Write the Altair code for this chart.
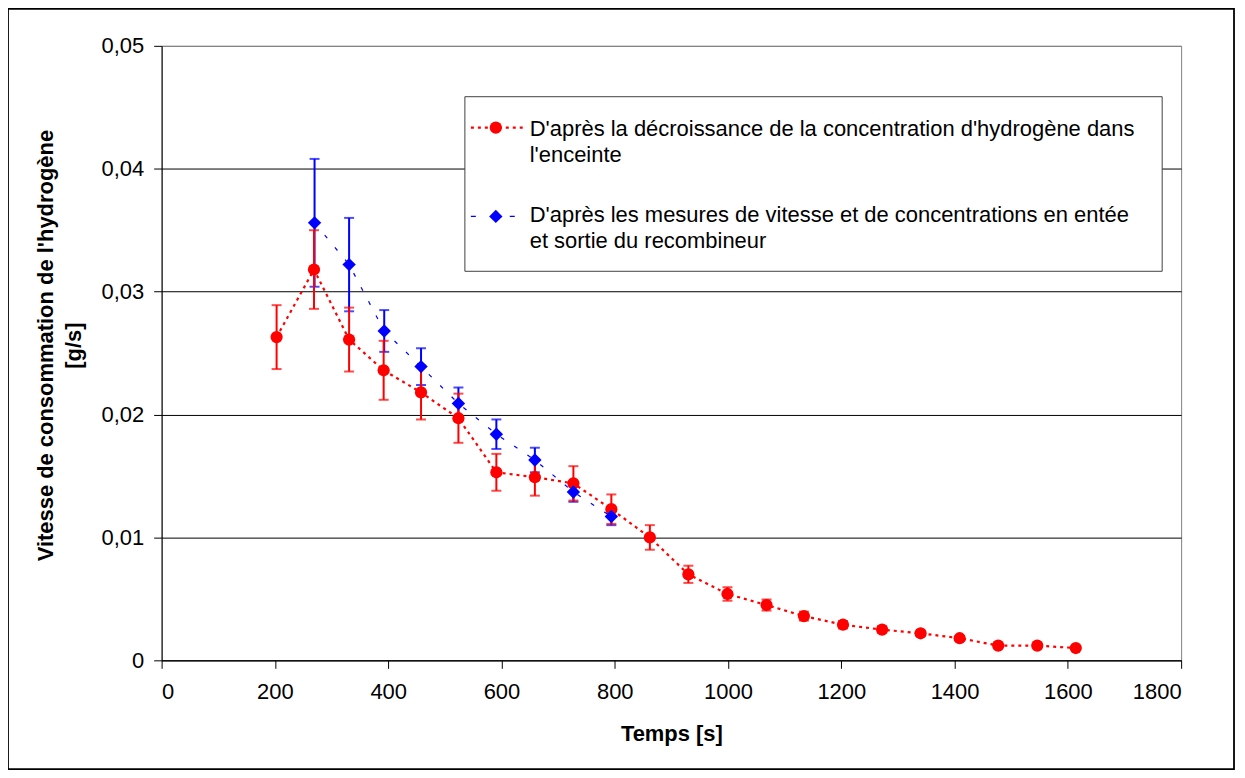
import altair as alt
import pandas as pd

# ---- data ----
red_t = [203, 269, 331, 392, 458, 524, 591, 659, 727, 794, 862, 930, 999, 1068, 1134, 1203, 1272, 1340, 1409, 1477, 1546, 1614]
red_v = [0.0263, 0.0318, 0.0261, 0.0236, 0.0218, 0.0197, 0.0153, 0.0149, 0.0144, 0.0123, 0.0100, 0.0070,
         0.0054, 0.0045, 0.0036, 0.0029, 0.0025, 0.0022, 0.0018, 0.0012, 0.0012, 0.0010]
red_err = [0.0026, 0.0032, 0.0026, 0.0024, 0.0022, 0.0020, 0.0015, 0.0015, 0.0014, 0.0012, 0.0010, 0.0007,
           0.00055, 0.00045, 0.00036, 0.0003, 0.00025, 0.00022, 0.00018, 0.00012, 0.00012, 0.0001]

blue_t = [270, 331, 393, 458, 524, 591, 659, 727, 794]
blue_v = [0.0356, 0.0322, 0.0268, 0.0239, 0.0209, 0.0184, 0.0163, 0.0137, 0.0117]
blue_err = [0.0052, 0.0038, 0.0017, 0.0015, 0.0013, 0.0012, 0.0010, 0.0008, 0.0007]

x_ticks = [0, 200, 400, 600, 800, 1000, 1200, 1400, 1600, 1800]
y_ticks = [0, 0.01, 0.02, 0.03, 0.04, 0.05]

red_label = ["D'après la décroissance de la concentration d'hydrogène dans", "l'enceinte"]
blue_label = ["D'après les mesures de vitesse et de concentrations en entée", "et sortie du recombineur"]
x_title = "Temps [s]"
y_title = ["Vitesse de consommation de l'hydrogène", "[g/s]"]

RED = "#FF0000"
BLUE = "#0000FF"
FONT = "Liberation Sans"

red = pd.DataFrame({"t": red_t, "v": red_v,
                    "lo": [v - e for v, e in zip(red_v, red_err)],
                    "hi": [v + e for v, e in zip(red_v, red_err)]})
blue = pd.DataFrame({"t": blue_t, "v": blue_v,
                     "lo": [v - e for v, e in zip(blue_v, blue_err)],
                     "hi": [v + e for v, e in zip(blue_v, blue_err)]})

xs = alt.Scale(domain=[0, 1800], nice=False)
ys = alt.Scale(domain=[0, 0.05], nice=False)

x_axis = alt.Axis(values=x_ticks, format="d", grid=False, domainColor="#000", tickColor="#000",
                  tickSize=8, labelPadding=13, labelFontSize=22, labelFont=FONT, labelColor="#000",
                  title=x_title, titleFont=FONT, titleFontSize=22, titleFontWeight="bold",
                  titleColor="#000", titleY=80, titleBaseline="alphabetic")
y_axis = alt.Axis(values=y_ticks,
                  labelExpr="datum.value == 0 ? '0' : replace(format(datum.value, '.2f'), '.', ',')",
                  grid=True, gridColor={"condition": {"test": "datum.value >= 0.049", "value": "#808080"},
                                        "value": "#000000"},
                  gridWidth=1, domainColor="#000", tickColor="#000", tickSize=8, labelPadding=10,
                  labelFontSize=22, labelFont=FONT, labelColor="#000",
                  title=y_title, titleFont=FONT, titleFontSize=22, titleFontWeight="bold", titleColor="#000",
                  titleAngle=270, titleX=-104, titleY=300, titleBaseline="bottom", titleAlign="center",
                  titleLineHeight=28)

X = alt.X("t:Q", scale=xs, axis=x_axis)

def Y(field):
    return alt.Y(field, type="quantitative", scale=ys, axis=y_axis)

one = pd.DataFrame({"k": [0]})

# outer frame
frame = alt.Chart(one).mark_rect(fill=None, stroke="#000", strokeWidth=1.8, clip=False).encode(
    x=alt.value(-154), x2=alt.value(1075), y=alt.value(-37), y2=alt.value(725))

base_r = alt.Chart(red)
base_b = alt.Chart(blue)

def err_layers(base, color):
    bar = base.mark_rule(color=color, strokeWidth=2).encode(x=X, y=Y("lo"), y2="hi:Q")
    cap_lo = base.mark_tick(color=color, orient="horizontal", size=10, thickness=2).encode(x=X, y=Y("lo"))
    cap_hi = base.mark_tick(color=color, orient="horizontal", size=10, thickness=2).encode(x=X, y=Y("hi"))
    return [bar, cap_lo, cap_hi]

red_line = base_r.mark_line(color=RED, strokeWidth=2.2, strokeDash=[3, 4]).encode(x=X, y=Y("v"))
red_pts = base_r.mark_point(shape="circle", filled=True, color=RED, opacity=1, size=150).encode(x=X, y=Y("v"))
blue_line = base_b.mark_line(color=BLUE, strokeWidth=1.2, strokeDash=[4, 12]).encode(x=X, y=Y("v"))
blue_pts = base_b.mark_point(shape="diamond", filled=True, color=BLUE, opacity=1, size=180).encode(x=X, y=Y("v"))

# legend (decoration)
leg_box = alt.Chart(one).mark_rect(fill="white", stroke="#404040", strokeWidth=1).encode(
    x=alt.value(304), x2=alt.value(1003), y=alt.value(51), y2=alt.value(226))
leg_red_line = alt.Chart(one).mark_rule(color=RED, strokeWidth=2.2, strokeDash=[3, 4]).encode(
    x=alt.value(310), x2=alt.value(362), y=alt.value(82))
leg_red_pt = alt.Chart(one).mark_point(shape="circle", filled=True, color=RED, opacity=1, size=150).encode(
    x=alt.value(335), y=alt.value(82))
leg_blue_line = alt.Chart(one).mark_rule(color=BLUE, strokeWidth=1.2, strokeDash=[5, 34]).encode(
    x=alt.value(310), x2=alt.value(362), y=alt.value(171))
leg_blue_pt = alt.Chart(one).mark_point(shape="diamond", filled=True, color=BLUE, opacity=1, size=180).encode(
    x=alt.value(335), y=alt.value(171))

def txt(s, y):
    return alt.Chart(one).mark_text(align="left", baseline="alphabetic", font=FONT, fontSize=22,
                                    color="#000").encode(x=alt.value(369), y=alt.value(y), text=alt.value(s))

leg_texts = [txt(red_label[0], 90), txt(red_label[1], 116), txt(blue_label[0], 177), txt(blue_label[1], 203)]

layers = ([frame] + err_layers(base_b, BLUE) + err_layers(base_r, RED) +
          [red_line, red_pts, blue_line, blue_pts, leg_box, leg_red_line, leg_red_pt,
           leg_blue_line, leg_blue_pt] + leg_texts)

chart = alt.layer(*layers).properties(
    width=1022, height=616,
    autosize=alt.AutoSizeParams(type="none"),
    padding={"left": 154, "top": 37, "right": 56, "bottom": 112},
    background="white",
).configure_view(stroke="#808080", strokeWidth=1)

chart.save("out.html", embed_options={"renderer": "svg", "actions": False})
